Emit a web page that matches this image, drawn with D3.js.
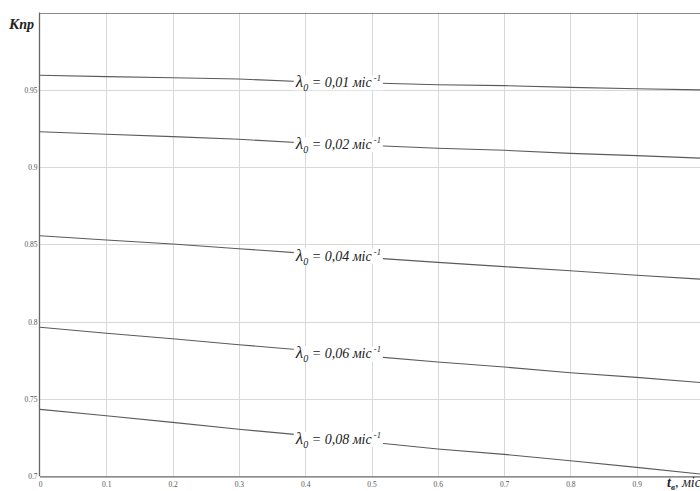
<!DOCTYPE html>
<html>
<head>
<meta charset="utf-8">
<script src="https://cdn.jsdelivr.net/npm/d3@7"></script>
<style>
  html, body { margin: 0; padding: 0; background: #fff; }
  svg { display: block; }
  .serif { font-family: "Liberation Serif", "Times New Roman", "DejaVu Serif", serif; }
</style>
</head>
<body>
<svg id="chart" width="700" height="491"></svg>
<script>
// Downtime coefficient K_пр versus recovery time t_в for several failure rates λ0
const tValues = [0, 0.1, 0.2, 0.3, 0.4, 0.5, 0.6, 0.7, 0.8, 0.9, 1.0];
const lambdaLabels = ["0,01", "0,02", "0,04", "0,06", "0,08"];
const k001 = [0.9594, 0.9585, 0.9578, 0.9570, 0.9552, 0.9544, 0.9533, 0.9527, 0.9516, 0.9507, 0.9499];
const k002 = [0.9229, 0.9212, 0.9197, 0.9180, 0.9156, 0.9140, 0.9122, 0.9109, 0.9089, 0.9074, 0.9057];
const k004 = [0.8556, 0.8528, 0.8503, 0.8472, 0.8442, 0.8413, 0.8384, 0.8356, 0.8330, 0.8300, 0.8274];
const k006 = [0.7964, 0.7925, 0.7890, 0.7851, 0.7815, 0.7776, 0.7739, 0.7707, 0.7670, 0.7640, 0.7605];
const k008 = [0.7433, 0.7392, 0.7349, 0.7304, 0.7265, 0.7220, 0.7177, 0.7142, 0.7101, 0.7058, 0.7013];
const seriesValues = [k001, k002, k004, k006, k008];
const xTicks = [0, 0.1, 0.2, 0.3, 0.4, 0.5, 0.6, 0.7, 0.8, 0.9];
const yTicks = [0.7, 0.75, 0.8, 0.85, 0.9, 0.95];
const labelT = 0.45;

const svg = d3.select("#chart");
const x = d3.scaleLinear().domain([0, 1]).range([40, 703]);
const y = d3.scaleLinear().domain([0.7, 1.0]).range([476.3, 12.5]);

// grid
const grid = svg.append("g").attr("stroke", "#d8d8d8").attr("stroke-width", 1);
grid.selectAll("line.v").data(xTicks.slice(1).concat([1.0])).enter().append("line")
  .attr("x1", d => Math.round(x(d)) + 0.5).attr("x2", d => Math.round(x(d)) + 0.5)
  .attr("y1", y(1.0)).attr("y2", y(0.7));
grid.selectAll("line.h").data(yTicks.slice(1)).enter().append("line")
  .attr("x1", x(0)).attr("x2", 700)
  .attr("y1", d => Math.round(y(d)) + 0.5).attr("y2", d => Math.round(y(d)) + 0.5);

// top border of the plot frame
svg.append("line").attr("x1", x(0)).attr("x2", 700)
  .attr("y1", Math.round(y(1.0)) + 0.5).attr("y2", Math.round(y(1.0)) + 0.5)
  .attr("stroke", "#8a8a8a").attr("stroke-width", 1);

// axes
const xAxis = d3.axisBottom(x).tickValues(xTicks).tickSize(0).tickPadding(5)
  .tickFormat(d => d === 0 ? "0" : d3.format(".1f")(d));
const gx = svg.append("g").attr("transform", `translate(0,${y(0.7)})`).call(xAxis);
gx.attr("font-family", null);
gx.select(".domain").attr("d", `M${x(0)},0.5H700`).attr("stroke", "#666").attr("stroke-width", 1.3);
gx.selectAll("text").attr("class", "serif").attr("font-size", 7.5).attr("fill", "#555");

const yAxis = d3.axisLeft(y).tickValues(yTicks).tickSize(0).tickPadding(2)
  .tickFormat(d => String(+d.toFixed(2)));
const gy = svg.append("g").attr("transform", `translate(${x(0) - 0.5},0)`).call(yAxis);
gy.attr("font-family", null);
gy.select(".domain").attr("d", `M0,${y(1.0)}V${y(0.7)}`).attr("stroke", "#666").attr("stroke-width", 1.3);
gy.selectAll("text").attr("class", "serif").attr("font-size", 7.5).attr("fill", "#555");

// curves
const line = d3.line().x((d, i) => x(tValues[i])).y(d => y(d));
svg.append("g").selectAll("path.curve").data(seriesValues).enter().append("path")
  .attr("d", line).attr("fill", "none").attr("stroke", "#5a5a5a").attr("stroke-width", 1.1);

// inline curve labels on a white background
const labelsG = svg.append("g");
seriesValues.forEach((vals, i) => {
  const kAt = d3.scaleLinear().domain(tValues).range(vals)(labelT);
  const g = labelsG.append("g").attr("transform", `translate(${x(labelT)},${y(kAt)})`);
  const bg = g.append("rect").attr("fill", "#fff");
  const t = g.append("text").attr("class", "serif").attr("font-style", "italic")
    .attr("font-size", 14).attr("fill", "#222").attr("text-anchor", "middle").attr("dy", "0.35em");
  t.append("tspan").attr("font-size", 17).text("λ");
  t.append("tspan").attr("font-size", 10).attr("dy", 4).text("0");
  t.append("tspan").attr("dy", -4).text(" = " + lambdaLabels[i] + " міс");
  t.append("tspan").attr("font-size", 8.5).attr("dy", -6).text(" -1");
  const bb = t.node().getBBox();
  bg.attr("x", bb.x - 1).attr("y", bb.y + 3).attr("width", bb.width + 3).attr("height", bb.height - 6);
});

// axis titles
const yt = svg.append("text").attr("class", "serif").attr("x", 9).attr("y", 29)
  .attr("font-style", "italic").attr("font-weight", "bold")
  .attr("font-size", 15).attr("fill", "#222");
yt.append("tspan").text("К");
yt.append("tspan").attr("font-size", 14).text("пр");

const xt = svg.append("text").attr("class", "serif").attr("x", 667).attr("y", 487)
  .attr("font-style", "italic").attr("font-weight", "bold")
  .attr("font-size", 14).attr("fill", "#222");
xt.append("tspan").text("t");
xt.append("tspan").attr("font-size", 9).attr("dy", 3).text("в");
xt.append("tspan").attr("dy", -3).attr("font-weight", "normal").text(", міс");
</script>
</body>
</html>
